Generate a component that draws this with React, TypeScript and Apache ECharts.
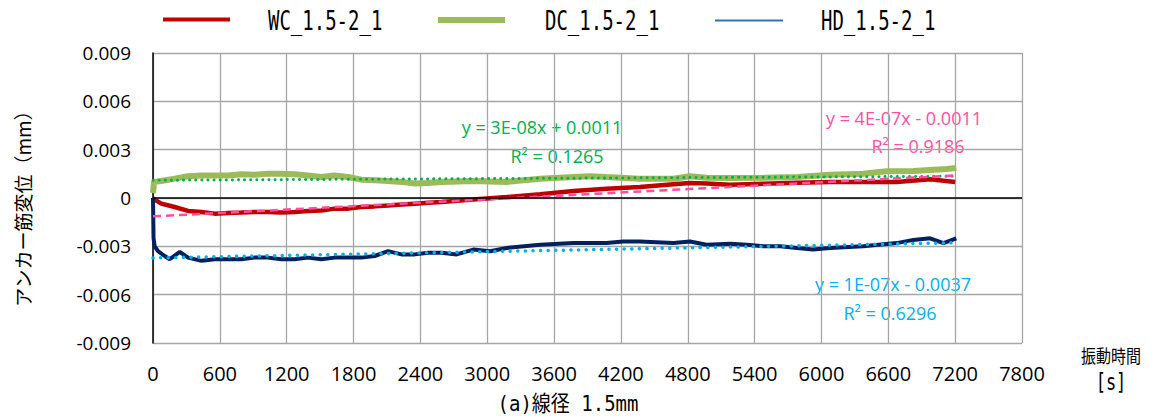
import React, { useEffect, useRef } from "react";
import * as echarts from "echarts";

// ---- data (time in s, displacement in mm) ----
const seriesNames = ["WC_1.5-2_1", "DC_1.5-2_1", "HD_1.5-2_1"];

const wcTime = [0, 15, 75, 195, 315, 435, 555, 675, 795, 910, 1030, 1150, 1270, 1390, 1510, 1630, 1750, 1870, 1990, 2110, 2230, 2350, 2470, 2590, 2875, 3175, 3475, 3775, 4070, 4370, 4670, 4820, 4970, 5180, 5480, 5780, 6075, 6375, 6675, 6975, 7200];
const wcValues = [0, -0.0001, -0.00035, -0.00056, -0.0008, -0.00087, -0.00097, -0.00093, -0.0009, -0.00087, -0.00087, -0.0009, -0.00087, -0.0008, -0.00077, -0.00066, -0.00066, -0.00056, -0.00052, -0.00046, -0.00041, -0.00035, -0.00029, -0.00025, -0.0001, 0.00006, 0.00023, 0.00043, 0.00058, 0.00068, 0.00085, 0.00093, 0.0009, 0.00083, 0.00089, 0.00095, 0.001, 0.001, 0.001, 0.00116, 0.001];

const dcTime = [0, 10, 75, 195, 315, 435, 555, 675, 795, 910, 1030, 1150, 1270, 1390, 1510, 1630, 1750, 1870, 1990, 2110, 2230, 2350, 2470, 2590, 2875, 3175, 3475, 3775, 3925, 4070, 4370, 4670, 4820, 4970, 5180, 5480, 5780, 6075, 6375, 6585, 6825, 7125, 7210];
const dcValues = [0.0003, 0.001, 0.00106, 0.0012, 0.00135, 0.0014, 0.0014, 0.0014, 0.00147, 0.00145, 0.0015, 0.0015, 0.00147, 0.0014, 0.0013, 0.0014, 0.0013, 0.00114, 0.0011, 0.00106, 0.001, 0.0009, 0.00093, 0.001, 0.00106, 0.001, 0.0012, 0.0013, 0.00135, 0.0013, 0.0012, 0.0012, 0.00135, 0.00126, 0.00124, 0.00126, 0.0013, 0.00145, 0.0015, 0.00166, 0.00168, 0.0018, 0.00186];

const hdTime = [0, 5, 15, 45, 105, 150, 240, 315, 435, 555, 675, 795, 910, 1030, 1150, 1270, 1390, 1510, 1630, 1750, 1870, 1990, 2110, 2230, 2350, 2470, 2590, 2725, 2875, 3025, 3175, 3475, 3775, 4070, 4220, 4370, 4670, 4820, 4970, 5180, 5330, 5480, 5630, 5780, 5925, 6075, 6375, 6675, 6825, 6975, 7095, 7210];
const hdValues = [0, -0.0025, -0.003, -0.0033, -0.0036, -0.0038, -0.00335, -0.0037, -0.0039, -0.0038, -0.0038, -0.0038, -0.0037, -0.0037, -0.0038, -0.0038, -0.0037, -0.0038, -0.0037, -0.0037, -0.0037, -0.0036, -0.0033, -0.0035, -0.0035, -0.0034, -0.0034, -0.0035, -0.0032, -0.0033, -0.0031, -0.0029, -0.0028, -0.0028, -0.0027, -0.0027, -0.0028, -0.0027, -0.0029, -0.00284, -0.0029, -0.003, -0.003, -0.0031, -0.0032, -0.0031, -0.003, -0.0028, -0.0026, -0.0025, -0.0028, -0.0025];

// linear trend lines (end points)
const trendTime = [0, 7200];
const wcTrend = [-0.00114, 0.0014];
const dcTrend = [0.0011, 0.00135];
const hdTrend = [-0.00372, -0.00278];

const trendLabels = [
  ["y = 3E-08x + 0.0011", "R² = 0.1265"],
  ["y = 4E-07x - 0.0011", "R² = 0.9186"],
  ["y = 1E-07x - 0.0037", "R² = 0.6296"],
];

const xTicks = { min: 0, max: 7800, interval: 600 };
const yTicks = { min: -0.009, max: 0.009, interval: 0.003 };

const pair = (t: number[], v: number[]) => t.map((x, i) => [x, v[i]]);

const MONO = "'DejaVu Sans Mono', 'Liberation Mono', 'Noto Sans CJK JP', monospace";
const SANS = "'Open Sans', 'Noto Sans', sans-serif";
const CJK = "'Noto Sans CJK JP', sans-serif";

const legendText = (x: number, name: string) => ({
  type: "text",
  x,
  y: 21,
  scaleY: 1.4,
  style: { text: name, fill: "#000", font: `19px ${MONO}`, textAlign: "left", textVerticalAlign: "middle" },
});

const label = (x: number, y: number, text: string, color: string) => ({
  type: "text",
  x,
  y,
  style: { text, fill: color, font: `18px ${SANS}`, textAlign: "center", textVerticalAlign: "middle" },
});

export default function App() {
  const ref = useRef<HTMLDivElement>(null);
  useEffect(() => {
    const chart = echarts.init(ref.current!, null, { renderer: "svg" });
    const option: any = {
      animation: false,
      backgroundColor: "#ffffff",
      grid: { left: 153, right: 145, top: 53, bottom: 74, containLabel: false },
      legend: { show: false, data: seriesNames },
      xAxis: {
        type: "value",
        min: xTicks.min,
        max: xTicks.max,
        interval: xTicks.interval,
        axisLine: { show: false },
        axisTick: { show: false },
        axisLabel: { fontFamily: SANS, fontSize: 20, color: "#000", margin: 20, formatter: (v: number) => String(v) },
        splitLine: { show: true, lineStyle: { color: "#a6a6a6", width: 1.3 } },
      },
      yAxis: {
        type: "value",
        min: yTicks.min,
        max: yTicks.max,
        interval: yTicks.interval,
        axisLine: { show: true, onZero: false, lineStyle: { color: "#000", width: 1.5 } },
        axisTick: { show: false },
        axisLabel: {
          fontFamily: SANS,
          fontSize: 19,
          color: "#000",
          margin: 22,
          formatter: (v: number) => (Math.abs(v) < 1e-9 ? "0" : v.toFixed(3)),
        },
        splitLine: { show: true, lineStyle: { color: "#a6a6a6", width: 1.3 } },
        name: "アンカー筋変位（mm）",
        nameLocation: "middle",
        nameGap: 121,
        nameTextStyle: { fontFamily: CJK, fontSize: 19, color: "#000", padding: [0, 12, 0, 0] },
      },
      series: [
        {
          name: seriesNames[1],
          type: "line",
          data: pair(dcTime, dcValues),
          showSymbol: false,
          symbol: "none",
          lineStyle: { color: "#9bbb59", width: 6 },
          itemStyle: { color: "#9bbb59" },
          z: 2,
        },
        {
          name: seriesNames[0],
          type: "line",
          data: pair(wcTime, wcValues),
          showSymbol: false,
          symbol: "none",
          lineStyle: { color: "#c00000", width: 4.5 },
          itemStyle: { color: "#c00000" },
          z: 3,
          markLine: {
            silent: true,
            symbol: "none",
            label: { show: false },
            lineStyle: { color: "#000", width: 1.5, type: "solid" },
            data: [{ yAxis: 0 }],
          },
        },
        {
          name: seriesNames[2],
          type: "line",
          data: pair(hdTime, hdValues),
          showSymbol: false,
          symbol: "none",
          lineStyle: { color: "#002060", width: 4 },
          itemStyle: { color: "#2e75b6" },
          z: 3,
        },
        {
          name: "trend-DC",
          type: "line",
          data: pair(trendTime, dcTrend),
          showSymbol: false,
          symbol: "none",
          lineStyle: { color: "#00b050", width: 3, type: [0.1, 6], cap: "round" },
          z: 4,
        },
        {
          name: "trend-WC",
          type: "line",
          data: pair(trendTime, wcTrend),
          showSymbol: false,
          symbol: "none",
          lineStyle: { color: "#ff4fa0", width: 2.5, type: [8, 5] },
          z: 4,
        },
        {
          name: "trend-HD",
          type: "line",
          data: pair(trendTime, hdTrend),
          showSymbol: false,
          symbol: "none",
          lineStyle: { color: "#00b0f0", width: 3.5, type: [0.1, 7.5], cap: "round" },
          z: 4,
        },
      ],
      graphic: [
        // legend
        { type: "rect", shape: { x: 163, y: 17.5, width: 67, height: 4 }, style: { fill: "#c00000" } },
        legendText(268, seriesNames[0]),
        { type: "rect", shape: { x: 438, y: 17, width: 67, height: 6 }, style: { fill: "#9bbb59" } },
        legendText(545, seriesNames[1]),
        { type: "rect", shape: { x: 715, y: 19.5, width: 68, height: 2 }, style: { fill: "#2e75b6" } },
        legendText(821, seriesNames[2]),
        // trendline equations
        label(542, 127, trendLabels[0][0], "#00b050"),
        label(557, 156, trendLabels[0][1], "#00b050"),
        label(904, 118, trendLabels[1][0], "#ff4fa0"),
        label(918, 146, trendLabels[1][1], "#ff4fa0"),
        label(893, 284, trendLabels[2][0], "#00b0f0"),
        label(890, 313, trendLabels[2][1], "#00b0f0"),
        // x-axis title and caption
        { type: "text", x: 1111, y: 355, scaleY: 1.25, style: { text: "振動時間", fill: "#000", font: `15px ${CJK}`, textAlign: "center", textVerticalAlign: "middle" } },
        { type: "text", x: 1111, y: 383, scaleY: 1.3, style: { text: "[s]", fill: "#000", font: `17px ${MONO}`, textAlign: "center", textVerticalAlign: "middle" } },
        { type: "text", x: 568, y: 404, scaleY: 1.15, style: { text: "(a)線径 1.5mm", fill: "#000", font: `19px ${MONO}`, textAlign: "center", textVerticalAlign: "middle" } },
      ],
    };
    chart.setOption(option);
    return () => chart.dispose();
  }, []);
  return (
    <div
      ref={ref}
      style={{ position: "fixed", left: 0, top: 0, width: 1167, height: 417 }}
    />
  );
}
